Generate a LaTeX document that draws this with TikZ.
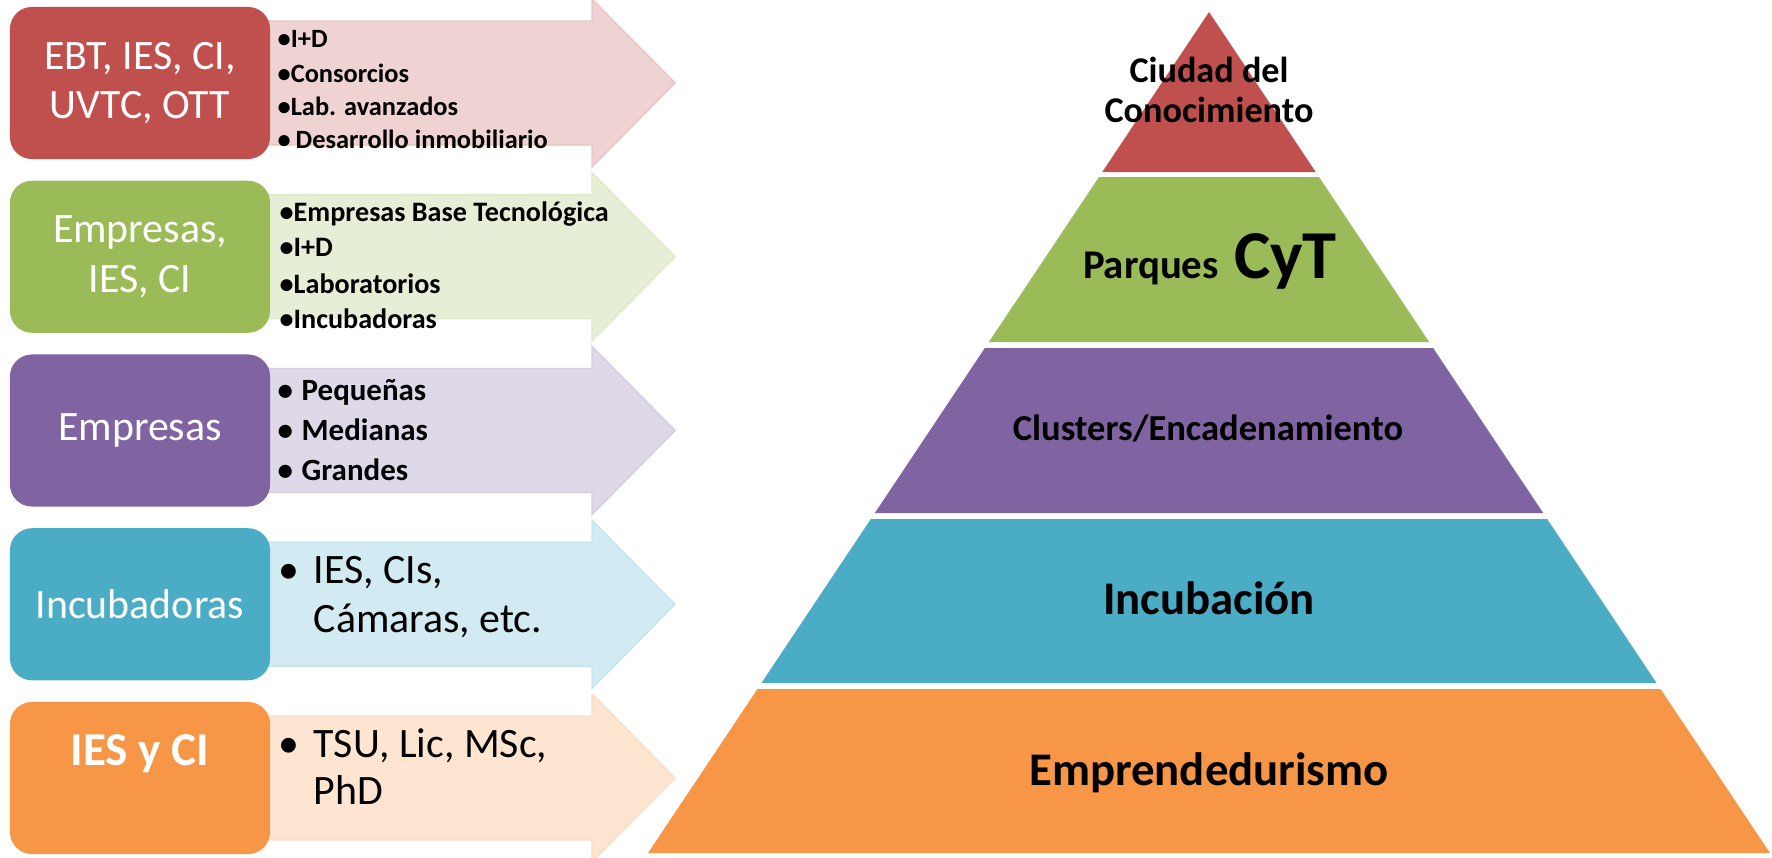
\documentclass[tikz,border=0pt]{standalone}
\usepackage{fontspec}
\setmainfont{Carlito}
\definecolor{cred}{HTML}{C0504D}
\definecolor{cgreen}{HTML}{9BBB59}
\definecolor{cpurple}{HTML}{8064A2}
\definecolor{cteal}{HTML}{4BACC6}
\definecolor{corange}{HTML}{F79646}

\begin{document}
\begin{tikzpicture}[x=0.01cm, y=-0.01cm,
  box/.style={rounded corners=0.22cm, minimum width=2.6cm, minimum height=1.52cm,
    text=white, align=center, inner sep=0pt, font=\fontsize{11.9}{14}\selectfont},
  item/.style={anchor=base west, inner sep=0pt, font=\bfseries\fontsize{7.5}{9}\selectfont},
  bigitem/.style={anchor=base west, inner sep=0pt, font=\fontsize{11.9}{14}\selectfont},
  level/.style={anchor=base, inner sep=0pt, font=\bfseries\fontsize{13.3}{16}\selectfont}]
\useasboundingbox (0,0) rectangle (1772,857);
% Light arrows behind the coloured boxes
\foreach \i/\col in {0/cred,1/cgreen,2/cpurple,3/cteal,4/corange} {
  \pgfmathsetmacro{\c}{83+173.75*\i}
  \filldraw[fill=\col!25, draw=\col!33, line width=0.4pt]
    (262,\c-62) -- (592,\c-62) -- (592,\c-84) -- (675,\c)
    -- (592,\c+84) -- (592,\c+62) -- (262,\c+62) -- cycle;
}
% The coloured boxes on the left
\foreach \i/\col/\txt in {
  0/cred/{EBT, IES, CI,\\UVTC, OTT},
  1/cgreen/{Empresas,\\IES, CI},
  2/cpurple/{Empresas},
  3/cteal/{Incubadoras}} {
  \pgfmathsetmacro{\c}{83+173.75*\i}
  \node[box, fill=\col] (box\i) at (140,\c) {\txt};
}
\node[box, fill=corange] (box4) at (140,778) {};
\node[anchor=base, inner sep=0pt, text=white, font=\bfseries\fontsize{13.4}{16}\selectfont]
  (iesci) at (140,765) {IES y CI};
% Bullet lists inside the arrows
\foreach \y/\t [count=\n] in {
  47/{\textbullet I+D},
  82/{\textbullet Consorcios},
  115/{\textbullet Lab. avanzados},
  148/{\makebox[0.18cm][l]{\textbullet}Desarrollo inmobiliario}} {
  \node[item] (red\n) at (277,\y) {\t};
}
\foreach \y/\t [count=\n] in {
  221/{\textbullet Empresas Base Tecnológica},
  256/{\textbullet I+D},
  293/{\textbullet Laboratorios},
  328/{\textbullet Incubadoras}} {
  \node[item, font=\bfseries\fontsize{8}{10}\selectfont] (green\n) at (279,\y) {\t};
}
\foreach \y/\t [count=\n] in {
  400/{Pequeñas},
  440/{Medianas},
  480/{Grandes}} {
  \node[item, font=\bfseries\fontsize{8.8}{10}\selectfont] (purple\n) at (277,\y)
    {\makebox[0.24cm][l]{\textbullet}\t};
}
\node[bigitem] (teal1) at (278,583) {\makebox[0.35cm][l]{\textbullet}IES, CIs,};
\node[bigitem] (teal2) at (313,632) {Cámaras, etc.};
\node[bigitem] (orange1) at (278,757) {\makebox[0.35cm][l]{\textbullet}TSU, Lic, MSc,};
\node[bigitem] (orange2) at (313,804) {PhD};
% The pyramid, one trapezoid per level
\foreach \t/\b/\col in {12/172/cred, 177/342/cgreen, 348/513/cpurple,
  519/683/cteal, 689/853/corange} {
  \fill[\col] ({1209-0.667*(\t-12)},\t) -- ({1209+0.667*(\t-12)},\t)
    -- ({1209+0.667*(\b-12)},\b) -- ({1209-0.667*(\b-12)},\b) -- cycle;
}
\node[level, font=\bfseries\fontsize{10.3}{12}\selectfont] (city1) at (1209,82) {Ciudad del};
\node[level, font=\bfseries\fontsize{10.3}{12}\selectfont] (city2) at (1209,122) {Conocimiento};
\node[level] (parks) at (1210,278)
  {{\fontsize{11.6}{14}\selectfont Parques}{\fontsize{19.5}{22}\selectfont\ CyT}};
\node[level, font=\bfseries\fontsize{10.4}{12}\selectfont] (clusters) at (1208,440)
  {Clusters/Encadenamiento};
\node[level] (incub) at (1209,614) {Incubación};
\node[level] (empren) at (1209,785) {Emprendedurismo};
\end{tikzpicture}
\end{document}
